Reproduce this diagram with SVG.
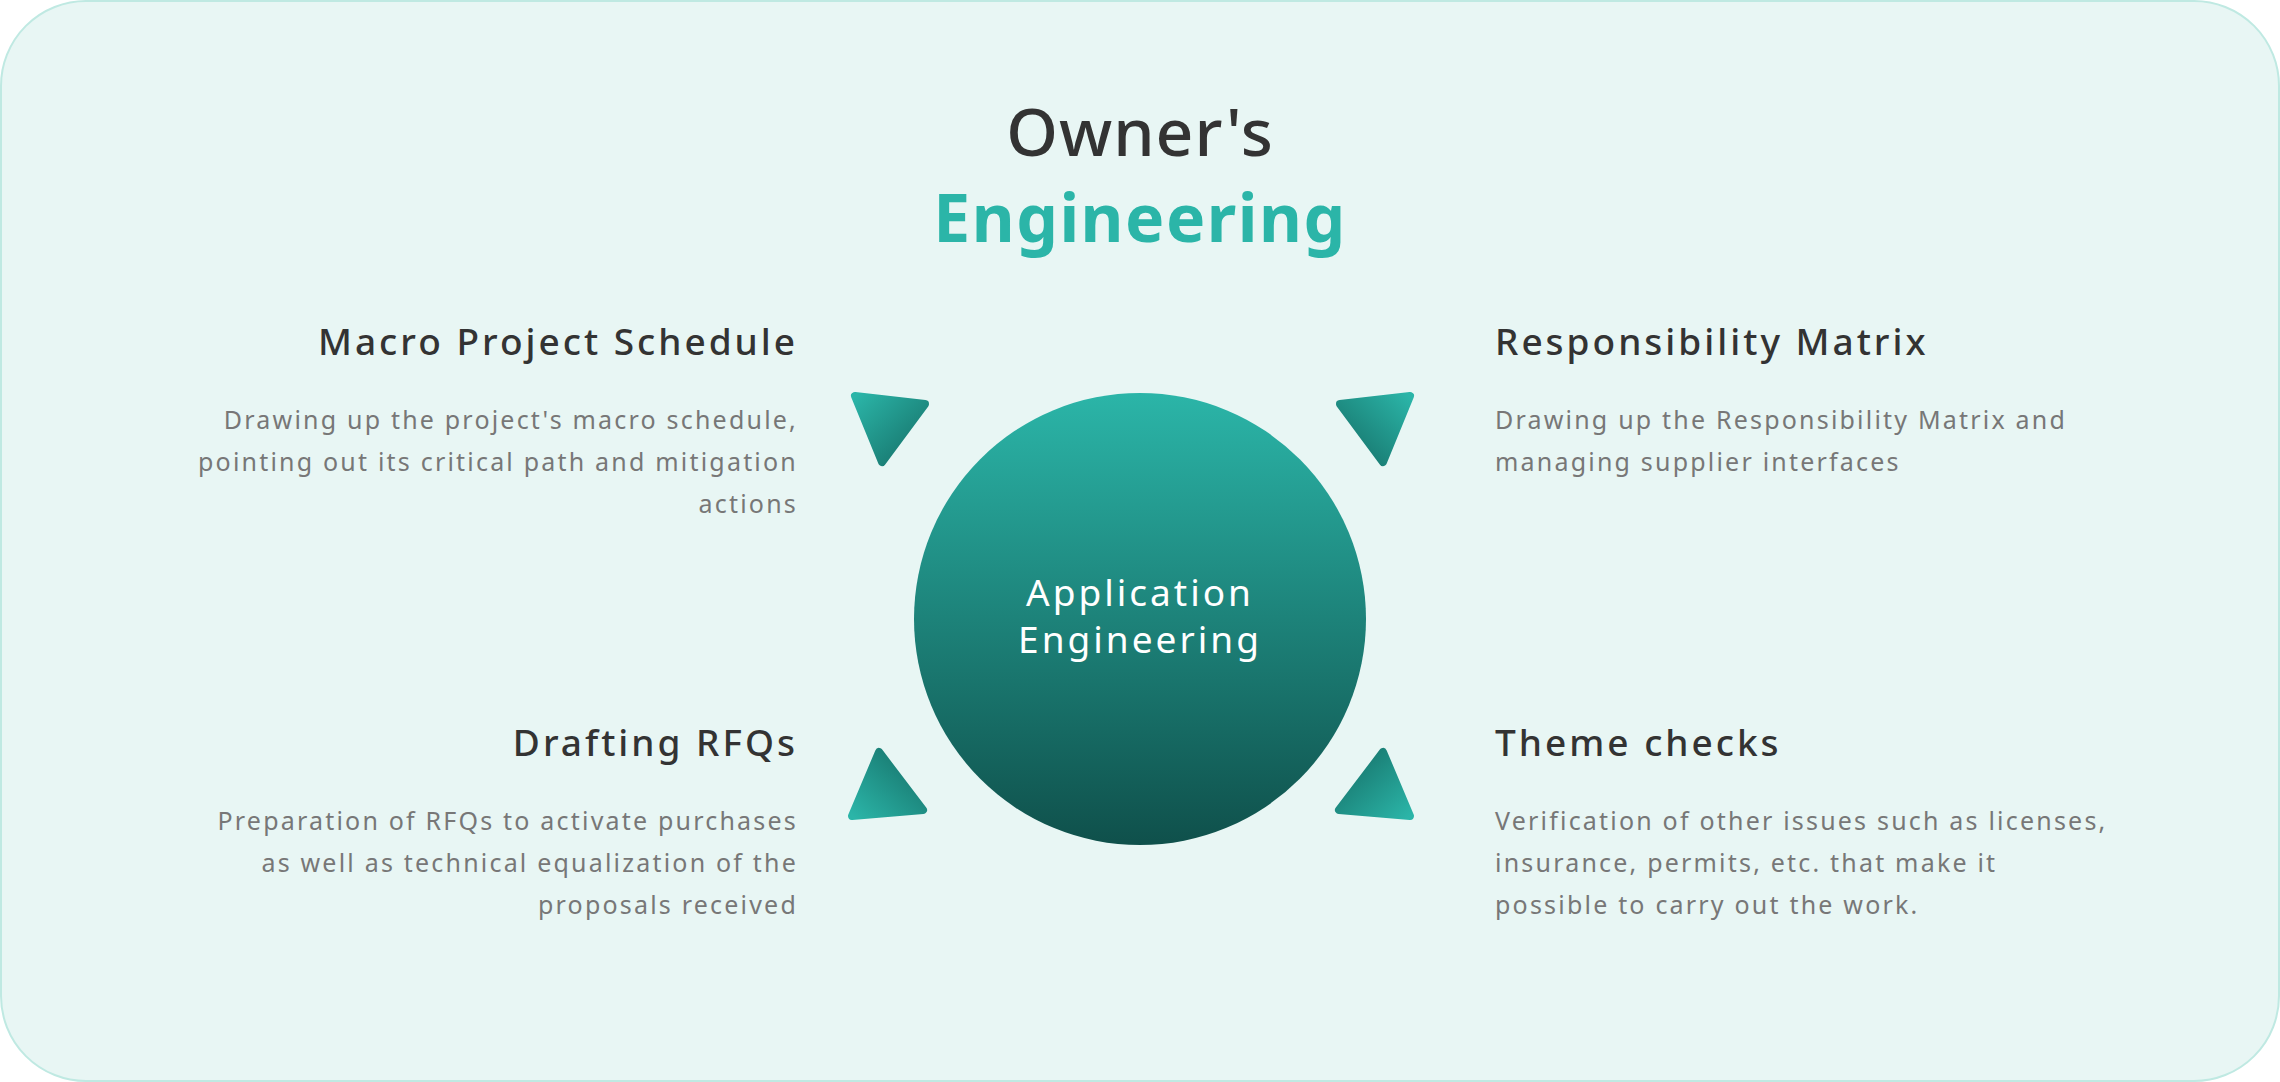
<svg xmlns="http://www.w3.org/2000/svg" width="2280" height="1082" viewBox="0 0 2280 1082">
<defs>
<linearGradient id="cg" x1="0" y1="0" x2="0" y2="1"><stop offset="0" stop-color="#2bb5a8"/><stop offset="1" stop-color="#0f504b"/></linearGradient>
<linearGradient id="tl" x1="0" y1="0" x2="1" y2="1"><stop offset="0" stop-color="#2bb5a8"/><stop offset="1" stop-color="#156e66"/></linearGradient>
<linearGradient id="tr" x1="1" y1="0" x2="0" y2="1"><stop offset="0" stop-color="#2bb5a8"/><stop offset="1" stop-color="#156e66"/></linearGradient>
<linearGradient id="bl" x1="0" y1="1" x2="1" y2="0"><stop offset="0" stop-color="#2bb5a8"/><stop offset="1" stop-color="#156e66"/></linearGradient>
<linearGradient id="br" x1="1" y1="1" x2="0" y2="0"><stop offset="0" stop-color="#2bb5a8"/><stop offset="1" stop-color="#156e66"/></linearGradient>
<style>
text{font-family:"Noto Sans",Lato,sans-serif}
.h{font-size:37px;fill:#333;font-weight:500;letter-spacing:3px}
.b{font-size:25px;fill:#777;letter-spacing:2.2px}
.r{text-anchor:end}
.tri{stroke-width:8;stroke-linejoin:round}
</style>
</defs>
<rect x="1" y="1" width="2278" height="1080" rx="85" fill="#e8f6f4" stroke="#bfe9e2" stroke-width="2"/>
<g id="title">
<text x="1140" y="156" text-anchor="middle" font-size="66" fill="#333" font-weight="500" letter-spacing="1">Owner's</text>
<text x="1140" y="242" text-anchor="middle" font-size="66" fill="#2bb5a8" font-weight="bold" letter-spacing="1.5">Engineering</text>
</g>
<g id="center">
<circle cx="1140" cy="619" r="226" fill="url(#cg)"/>
<text x="1140" y="606" text-anchor="middle" font-size="37" fill="#fff" letter-spacing="3">Application</text>
<text x="1140" y="653" text-anchor="middle" font-size="37" fill="#fff" letter-spacing="3">Engineering</text>
</g>
<g id="connectors">
<polygon class="tri" points="855,396 925,404 882,462" fill="url(#tl)" stroke="url(#tl)"/>
<polygon class="tri" points="1410,396 1340,404 1383,462" fill="url(#tr)" stroke="url(#tr)"/>
<polygon class="tri" points="879,752 923,810 852,816" fill="url(#bl)" stroke="url(#bl)"/>
<polygon class="tri" points="1383,752 1339,810 1410,816" fill="url(#br)" stroke="url(#br)"/>
</g>
<g id="macro">
<text class="h r" x="798" y="355">Macro Project Schedule</text>
<text class="b r" x="798" y="429">Drawing up the project's macro schedule,</text>
<text class="b r" x="798" y="471">pointing out its critical path and mitigation</text>
<text class="b r" x="798" y="513">actions </text>
</g>
<g id="responsibility">
<text class="h" x="1495" y="355">Responsibility Matrix</text>
<text class="b" x="1495" y="429">Drawing up the Responsibility Matrix and</text>
<text class="b" x="1495" y="471">managing supplier interfaces</text>
</g>
<g id="rfq">
<text class="h r" x="798" y="756">Drafting RFQs</text>
<text class="b r" x="798" y="830">Preparation of RFQs to activate purchases</text>
<text class="b r" x="798" y="872">as well as technical equalization of the</text>
<text class="b r" x="798" y="914">proposals received</text>
</g>
<g id="theme">
<text class="h" x="1495" y="756">Theme checks</text>
<text class="b" x="1495" y="830">Verification of other issues such as licenses,</text>
<text class="b" x="1495" y="872">insurance, permits, etc. that make it</text>
<text class="b" x="1495" y="914">possible to carry out the work.</text>
</g>
</svg>
